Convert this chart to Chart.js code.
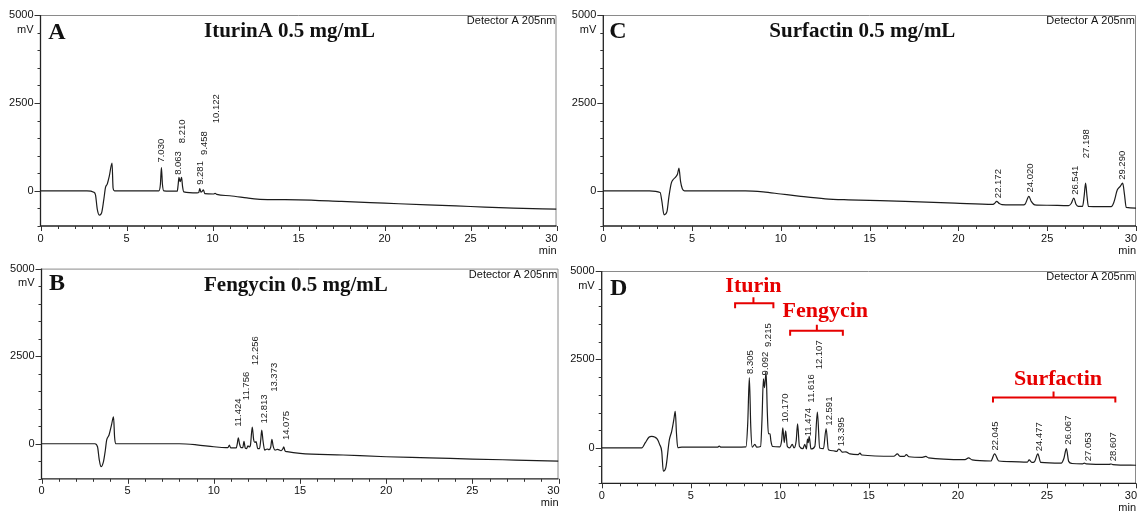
<!DOCTYPE html>
<html><head><meta charset="utf-8">
<script src="https://cdn.jsdelivr.net/npm/chart.js@4.4.1/dist/chart.umd.min.js"></script>
<style>
html,body{margin:0;padding:0;background:#fff;width:1142px;height:511px;overflow:hidden}
canvas{position:absolute;display:block}
</style></head><body>
<canvas id="cA" width="566" height="255" style="left:0;top:0"></canvas>
<canvas id="cB" width="566" height="256" style="left:0;top:255px"></canvas>
<canvas id="cC" width="576" height="255" style="left:566px;top:0"></canvas>
<canvas id="cD" width="576" height="256" style="left:566px;top:255px"></canvas>
<script>
// ---------- data (retention time in min, signal in mV) ----------
const timeA = [0,2.7,3.1,3.2,3.3,3.42,3.55,3.68,3.78,3.88,4.0,4.16,4.22,4.3,6.88,6.97,7.03,7.09,7.17,7.95,8.0,8.05,8.12,8.2,8.26,8.33,9.1,9.2,9.26,9.33,9.42,9.47,9.55,10.05,10.15,10.25,11.0,12.0,12.6,13.5,15.0,17.5,20.0,22.5,25.0,27.5,30.0];
const signalA = [0,0,-40,-120,-520,-690,-630,-250,100,190,420,790,80,0,0,180,660,180,0,-10,160,380,260,380,120,-30,-60,-50,60,-40,0,30,-80,-90,-70,-100,-140,-200,-235,-250,-255,-300,-350,-400,-445,-490,-520];
const peakTextA = ['7.030','8.063','8.210','9.281','9.458','10.122'];
const peakXA = [7.01,8.03,8.24,9.27,9.5,10.22];
const peakYA = [804,454,1355,170,1022,1922];

const timeB = [0,3.1,3.25,3.35,3.45,3.6,3.7,3.78,3.92,4.06,4.18,4.24,4.3,8.0,9.0,10.0,10.7,10.82,10.9,10.98,11.3,11.36,11.42,11.49,11.58,11.68,11.75,11.82,11.9,11.98,12.05,12.12,12.23,12.31,12.38,12.45,12.55,12.65,12.72,12.78,12.85,12.95,13.1,13.2,13.3,13.37,13.44,13.55,13.7,13.9,14.0,14.06,14.13,14.25,15.0,17.5,20.0,22.5,25.0,27.5,30.0];
const signalB = [0,0,-85,-450,-655,-500,-200,105,250,533,770,200,0,0,-30,-85,-110,-110,-40,-120,-120,0,171,0,-110,-110,70,-120,-140,-60,-90,-50,476,120,40,60,-140,-140,100,390,100,-180,-150,-170,-100,125,-60,-180,-160,-200,-150,-85,-200,-225,-274,-320,-370,-400,-436,-465,-493];
const peakTextB = ['11.424','11.756','12.256','12.813','13.373','14.075'];
const peakXB = [11.45,11.88,12.42,12.94,13.52,14.2];
const peakYB = [485,1245,2243,581,1482,105];

const timeC = [0,2.6,3.2,3.3,3.42,3.58,3.7,3.83,3.95,4.07,4.18,4.26,4.35,4.45,4.57,8.0,9.0,10.0,11.0,12.5,13.8,17.0,19.8,21.95,22.05,22.15,22.3,22.45,23.6,23.75,23.97,24.1,24.3,25.0,26.2,26.35,26.5,26.62,26.75,26.99,27.08,27.16,27.24,27.32,28.0,28.6,28.75,28.95,29.1,29.25,29.35,29.45,30.0];
const signalC = [0,0,-48,-300,-682,-600,-150,218,330,390,480,645,270,60,0,0,-30,-90,-150,-227,-256,-300,-350,-385,-350,-300,-360,-390,-400,-380,-160,-300,-400,-410,-420,-360,-208,-380,-440,-440,-150,218,-150,-445,-450,-450,-330,28,120,218,-100,-470,-490];
const peakTextC = ['22.172','24.020','26.541','27.198','29.290'];
const peakXC = [22.26,24.06,26.58,27.2,29.25];
const peakYC = [-208,-48,-114,928,312];

const timeD = [0,2.25,2.45,2.65,2.81,3.0,3.13,3.25,3.37,3.46,3.6,3.8,3.93,4.05,4.13,4.2,4.27,4.5,6.5,6.6,6.7,7.5,8.1,8.2,8.29,8.37,8.45,8.6,8.7,8.92,9.0,9.08,9.14,9.23,9.3,9.36,9.45,9.5,9.6,10.0,10.1,10.17,10.25,10.33,10.42,10.55,10.7,10.8,10.92,11.0,11.1,11.3,11.4,11.5,11.55,11.6,11.65,11.75,11.97,12.11,12.24,12.45,12.6,12.73,13.0,13.2,13.3,13.4,13.5,13.7,13.95,14.4,14.5,14.6,16.4,16.6,16.75,17.0,17.1,17.25,18.0,18.2,18.35,20.4,20.6,20.8,21.85,22.06,22.3,23.0,23.9,24.0,24.15,24.3,24.49,24.65,25.8,25.95,26.09,26.22,26.4,27.0,27.1,27.2,28.5,28.6,28.7,30.0];
const signalD = [0,0,150,300,327,300,240,100,-96,-660,-560,234,470,800,1030,400,10,20,20,50,20,20,30,700,1990,600,20,100,20,40,800,1954,1700,2143,1000,400,400,200,40,30,200,564,150,480,50,0,100,0,200,677,50,-20,100,-30,250,150,330,-30,50,1015,0,-20,544,-50,-80,-100,-30,-60,-120,-110,-170,-190,-150,-200,-236,-170,-240,-240,-190,-250,-265,-240,-280,-330,-280,-340,-370,-170,-370,-385,-400,-340,-410,-390,-170,-410,-430,-300,-20,-380,-440,-450,-430,-450,-465,-455,-470,-490];
const peakTextD = ['8.305','9.092','9.215','10.170','11.474','11.616','12.107','12.591','13.395','22.045','24.477','26.067','27.053','28.607'];
const peakXD = [8.33,9.17,9.38,10.32,11.59,11.77,12.24,12.76,13.45,22.13,24.57,26.21,27.3,28.74];
const peakYD = [2090,2050,2850,715,327,1280,2220,630,45,-76,-95,93,-377,-377];

// compound group annotations for panel D
const groupNames = ['Iturin','Fengycin','Surfactin'];
const groupStart = [7.49,10.58,21.97];
const groupEnd = [9.64,13.54,28.84];
const groupMid = [8.52,12.08,25.37];
const groupLevel = [4089,3308,1427];
const groupTextX = [8.52,12.55,25.62];
const groupTextY = [4416,3711,1785];

const yTickLabels = [0,2500,5000];
const xTickLabels = [0,5,10,15,20,25,30];

// ---------- rendering ----------
const SANS = "'Liberation Sans', Arial, Helvetica, sans-serif";
const SERIF = "'Liberation Serif', 'Times New Roman', serif";

const decoPlugin = {
  id: 'deco',
  beforeDatasetsDraw(chart, args, o) {
    const {ctx, chartArea: a, scales: {x, y}} = chart;
    ctx.save();
    ctx.strokeStyle = '#8a8a8a'; ctx.lineWidth = 1;
    ctx.beginPath();
    ctx.moveTo(a.left, a.top + 0.5); ctx.lineTo(a.right - 0.5, a.top + 0.5); ctx.lineTo(a.right - 0.5, a.bottom);
    ctx.stroke();
    ctx.strokeStyle = '#222'; ctx.lineWidth = 1.3;
    ctx.beginPath();
    ctx.moveTo(a.left, a.top); ctx.lineTo(a.left, a.bottom); ctx.lineTo(a.right, a.bottom);
    ctx.stroke();
    ctx.lineWidth = 1; ctx.strokeStyle = '#333';
    y.ticks.forEach(t => {
      const py = Math.round(y.getPixelForValue(t.value)) + 0.5;
      const len = yTickLabels.includes(t.value) ? 6 : 3;
      ctx.beginPath(); ctx.moveTo(a.left - len, py); ctx.lineTo(a.left, py); ctx.stroke();
    });
    x.ticks.forEach(t => {
      const px = Math.round(x.getPixelForValue(t.value)) + 0.5;
      const len = xTickLabels.includes(t.value) ? 5 : 3;
      ctx.beginPath(); ctx.moveTo(px, a.bottom); ctx.lineTo(px, a.bottom + len); ctx.stroke();
    });
    ctx.restore();
  },
  afterDraw(chart, args, o) {
    const {ctx, chartArea: a, scales: {x, y}} = chart;
    ctx.save();
    ctx.fillStyle = '#111';
    ctx.font = '11px ' + SANS;
    ctx.textBaseline = 'middle';
    ctx.textAlign = 'right';
    ctx.fillText('30', x.getPixelForValue(30) + 1, a.bottom + 12.6);
    ctx.fillText('min', a.right, a.bottom + 24.5);
    ctx.fillText('mV', a.left - 7, a.top + 14.5);
    ctx.fillText('Detector A 205nm', a.right - 1, a.top + 6);
    ctx.textBaseline = 'alphabetic';
    ctx.textAlign = 'left';
    ctx.font = 'bold 24px ' + SERIF;
    ctx.fillText(o.letter, a.left + o.letterDx, a.top + o.letterDy);
    if (o.title) {
      ctx.font = 'bold 21px ' + SERIF;
      ctx.fillText(o.title, a.left + o.titleDx, a.top + o.titleDy);
    }
    // peak retention-time labels
    ctx.font = '9.5px ' + SANS;
    ctx.fillStyle = '#222';
    o.peakText.forEach((s, i) => {
      ctx.save();
      ctx.translate(x.getPixelForValue(o.peakX[i]), y.getPixelForValue(o.peakY[i]));
      ctx.rotate(-Math.PI / 2);
      ctx.textAlign = 'left'; ctx.textBaseline = 'middle';
      ctx.fillText(s, 0, 0);
      ctx.restore();
    });
    if (o.groups) {
      ctx.strokeStyle = '#e60000'; ctx.fillStyle = '#e60000'; ctx.lineWidth = 2;
      ctx.font = 'bold 22px ' + SERIF;
      ctx.textAlign = 'center'; ctx.textBaseline = 'alphabetic';
      groupNames.forEach((g, i) => {
        const x1 = x.getPixelForValue(groupStart[i]), x2 = x.getPixelForValue(groupEnd[i]);
        const xm = x.getPixelForValue(groupMid[i]), yl = y.getPixelForValue(groupLevel[i]);
        ctx.beginPath();
        ctx.moveTo(x1, yl + 5); ctx.lineTo(x1, yl); ctx.lineTo(x2, yl); ctx.lineTo(x2, yl + 5);
        ctx.moveTo(xm, yl); ctx.lineTo(xm, yl - 6);
        ctx.stroke();
        ctx.fillText(g, x.getPixelForValue(groupTextX[i]), y.getPixelForValue(groupTextY[i]));
      });
    }
    ctx.restore();
  }
};

function build(id, times, values, lay, deco) {
  const pts = times.map((t, i) => ({x: t, y: values[i]}));
  return new Chart(document.getElementById(id), {
    type: 'line',
    data: {datasets: [{data: pts, borderColor: '#1c1c1c', borderWidth: 1.2, pointRadius: 0,
      cubicInterpolationMode: 'monotone', fill: false}]},
    options: {
      responsive: false, animation: false, devicePixelRatio: 1,
      layout: {padding: {left: 0, top: lay.top, right: lay.right, bottom: 0}},
      plugins: {legend: {display: false}, tooltip: {enabled: false}, deco: deco},
      scales: {
        x: {type: 'linear', min: 0, max: 30,
          afterFit: s => { s.height = lay.xh; },
          grid: {display: false, drawTicks: false, tickLength: 0}, border: {display: false},
          ticks: {stepSize: 1, autoSkip: false, maxRotation: 0, minRotation: 0, padding: 6, color: '#111',
            font: {family: SANS, size: 11},
            callback: v => (xTickLabels.includes(v) && v < 30) ? String(v) : ''}},
        y: {type: 'linear', min: -1000, max: 5000,
          afterFit: s => { s.width = lay.yw; },
          grid: {display: false, drawTicks: false, tickLength: 0}, border: {display: false},
          ticks: {stepSize: 500, autoSkip: false, padding: 7, color: '#111',
            font: {family: SANS, size: 11},
            callback: v => yTickLabels.includes(v) ? String(v) : ''}}
      }
    },
    plugins: [decoPlugin]
  });
}

build('cA', timeA, signalA, {yw: 40.5, top: 15, right: 9.5, xh: 29},
  {letter: 'A', letterDx: 7.8, letterDy: 24.3, title: 'IturinA 0.5 mg/mL', titleDx: 163.5, titleDy: 22,
   peakText: peakTextA, peakX: peakXA, peakY: peakYA});
build('cB', timeB, signalB, {yw: 41.5, top: 13.3, right: 7.5, xh: 32.2},
  {letter: 'B', letterDx: 7.5, letterDy: 21.7, title: 'Fengycin 0.5 mg/mL', titleDx: 162.5, titleDy: 22.7,
   peakText: peakTextB, peakX: peakXB, peakY: peakYB});
build('cC', timeC, signalC, {yw: 37.3, top: 15, right: 3.3, xh: 29},
  {letter: 'C', letterDx: 6, letterDy: 23.3, title: 'Surfactin 0.5 mg/mL', titleDx: 166, titleDy: 22.3,
   peakText: peakTextC, peakX: peakXC, peakY: peakYC});
build('cD', timeD, signalD, {yw: 35.7, top: 16, right: 6, xh: 27.7},
  {letter: 'D', letterDx: 8.3, letterDy: 24, title: '', titleDx: 0, titleDy: 0,
   peakText: peakTextD, peakX: peakXD, peakY: peakYD, groups: true});
</script>
</body></html>
